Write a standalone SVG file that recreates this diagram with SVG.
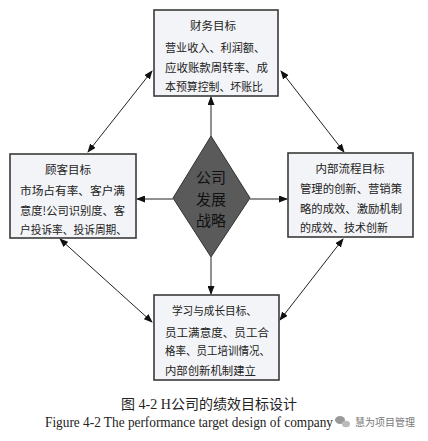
<svg xmlns="http://www.w3.org/2000/svg" width="428" height="441" viewBox="0 0 428 441">
<style>
.box{fill:#f3f4f7;stroke:#3a3a3a;stroke-width:1.6}
.t{font-family:"Noto Sans CJK SC","Noto Sans CJK TC",sans-serif;font-size:11.5px;fill:#222}
.dt{font-family:"Noto Sans CJK SC",sans-serif;font-size:15px;fill:#111}
.c{stroke:#222;stroke-width:1;fill:none}
.cap{font-family:"Liberation Serif","Noto Sans CJK SC",serif;font-size:14px;fill:#222}
.wm{font-family:"Noto Sans CJK SC",sans-serif;font-size:10.5px;fill:#777}
</style>
<defs>
<marker id="ah" markerUnits="userSpaceOnUse" markerWidth="9" markerHeight="7" refX="8" refY="3.5" orient="auto-start-reverse">
<path d="M0,0 L9,3.5 L0,7 z" fill="#111"/>
</marker>
</defs>
<rect width="428" height="441" fill="#ffffff"/>
<g id="connectors">
<line class="c" x1="88" y1="152" x2="152" y2="71" marker-start="url(#ah)" marker-end="url(#ah)"/>
<line class="c" x1="281" y1="71" x2="344" y2="152" marker-start="url(#ah)" marker-end="url(#ah)"/>
<line class="c" x1="60" y1="239" x2="152" y2="322" marker-start="url(#ah)" marker-end="url(#ah)"/>
<line class="c" x1="343" y1="239" x2="280" y2="320" marker-start="url(#ah)" marker-end="url(#ah)"/>
<line class="c" x1="211" y1="136" x2="211" y2="97" marker-end="url(#ah)"/>
<line class="c" x1="211" y1="257" x2="211" y2="294" marker-end="url(#ah)"/>
<line class="c" x1="173" y1="199" x2="137" y2="199" marker-end="url(#ah)"/>
<line class="c" x1="250" y1="199" x2="287" y2="199" marker-end="url(#ah)"/>
</g>
<g id="finance">
<rect class="box" x="154" y="10" width="124" height="86"/>
<text class="t" x="213" y="30" text-anchor="middle">财务目标</text>
<text class="t" x="165" y="52" textLength="100" lengthAdjust="spacingAndGlyphs">营业收入、利润额、</text>
<text class="t" x="165" y="72" textLength="103" lengthAdjust="spacingAndGlyphs">应收账款周转率、成</text>
<text class="t" x="165" y="91" textLength="98" lengthAdjust="spacingAndGlyphs">本预算控制、坏账比</text>
</g>
<g id="customer">
<rect class="box" x="10" y="154" width="126" height="84"/>
<text class="t" x="68" y="174" text-anchor="middle">顾客目标</text>
<text class="t" x="20" y="195" textLength="105" lengthAdjust="spacingAndGlyphs">市场占有率、客户满</text>
<text class="t" x="20" y="215" textLength="105" lengthAdjust="spacingAndGlyphs">意度!公司识别度、客</text>
<text class="t" x="20" y="234" textLength="107" lengthAdjust="spacingAndGlyphs">户投诉率、投诉周期、</text>
</g>
<g id="process">
<rect class="box" x="288" y="153" width="125" height="84"/>
<text class="t" x="350" y="173" text-anchor="middle">内部流程目标</text>
<text class="t" x="300" y="193" textLength="102" lengthAdjust="spacingAndGlyphs">管理的创新、营销策</text>
<text class="t" x="300" y="213" textLength="102" lengthAdjust="spacingAndGlyphs">略的成效、激励机制</text>
<text class="t" x="300" y="232" textLength="88" lengthAdjust="spacingAndGlyphs">的成效、技术创新</text>
</g>
<g id="learning">
<rect class="box" x="154" y="295" width="125" height="85"/>
<text class="t" x="172" y="315" textLength="85" lengthAdjust="spacingAndGlyphs">学习与成长目标、</text>
<text class="t" x="165" y="337" textLength="104" lengthAdjust="spacingAndGlyphs">员工满意度、员工合</text>
<text class="t" x="165" y="355" textLength="105" lengthAdjust="spacingAndGlyphs">格率、员工培训情况、</text>
<text class="t" x="165" y="375" textLength="91" lengthAdjust="spacingAndGlyphs">内部创新机制建立</text>
</g>
<g id="strategy">
<polygon points="211,136 250,198 211,257 173,198" fill="#5a5a5a" stroke="#333" stroke-width="1"/>
<text class="dt" x="211" y="183" text-anchor="middle">公司</text>
<text class="dt" x="211" y="205" text-anchor="middle">发展</text>
<text class="dt" x="211" y="226" text-anchor="middle">战略</text>
</g>
<g id="caption">
<text class="cap" x="209" y="409" text-anchor="middle">图 4-2 H公司的绩效目标设计</text>
<text class="cap" x="45" y="427" textLength="288" lengthAdjust="spacingAndGlyphs">Figure 4-2 The performance target design of company</text>
<g fill="#999">
<ellipse cx="340" cy="420" rx="5" ry="4"/>
<ellipse cx="346" cy="424" rx="4" ry="3.3" fill="#bbb"/>
</g>
<text class="wm" x="355" y="426" textLength="60" lengthAdjust="spacingAndGlyphs">慧为项目管理</text>
</g>
</svg>
